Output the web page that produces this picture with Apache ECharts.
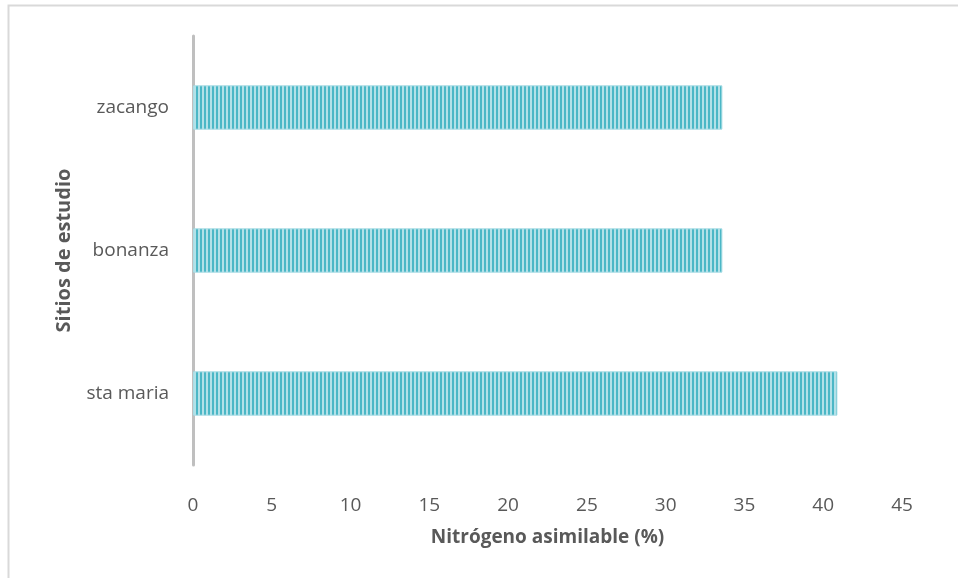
<!DOCTYPE html>
<html>
<head>
<meta charset="utf-8">
<script src="https://cdn.jsdelivr.net/npm/echarts@6/dist/echarts.min.js"></script>
<style>html,body{margin:0;padding:0;background:#fff;}#c{width:958px;height:578px;}</style>
</head>
<body>
<div id="c"></div>
<script>
const categories = ['sta maria', 'bonanza', 'zacango'];
const values = [40.9, 33.6, 33.6];
const xTicks = [0, 5, 10, 15, 20, 25, 30, 35, 40, 45];

const pc = document.createElement('canvas');
pc.width = 4; pc.height = 8;
const g = pc.getContext('2d');
g.fillStyle = '#b3e1e8'; g.fillRect(0, 0, 4, 8);
g.fillStyle = '#4bb7c6'; g.fillRect(0, 0, 2, 8);

const chart = echarts.init(document.getElementById('c'));
const font = '"Open Sans", "Liberation Sans", sans-serif';
chart.setOption({
  animation: false,
  graphic: [{
    type: 'rect', silent: true,
    shape: { x: 8.5, y: 5.5, width: 952, height: 600 },
    style: { fill: 'none', stroke: '#d9d9d9', lineWidth: 2 }
  }],
  grid: { left: 193, right: 56, top: 36, bottom: 113 },
  xAxis: {
    type: 'value', min: xTicks[0], max: xTicks[xTicks.length - 1], interval: 5,
    axisLine: { show: false }, axisTick: { show: false }, splitLine: { show: false },
    axisLabel: { color: '#595959', fontSize: 19, fontFamily: font, margin: 31 },
    name: 'Nitrógeno asimilable (%)', nameLocation: 'middle', nameGap: 63,
    nameTextStyle: { color: '#595959', fontSize: 19, fontWeight: 'bold', fontFamily: font }
  },
  yAxis: {
    type: 'category', data: categories,
    axisLine: { show: true, lineStyle: { color: '#bfbfbf', width: 3 } },
    axisTick: { show: false },
    axisLabel: { color: '#595959', fontSize: 19, fontFamily: font, margin: 24 },
    name: 'Sitios de estudio', nameLocation: 'middle', nameGap: 119,
    nameTextStyle: { color: '#595959', fontSize: 20, fontWeight: 'bold', fontFamily: font }
  },
  series: [{
    type: 'bar', data: values, barWidth: '31%',
    itemStyle: { color: { image: pc, repeat: 'repeat' }, borderColor: '#a9dde5', borderWidth: 1 }
  }]
});
</script>
</body>
</html>
